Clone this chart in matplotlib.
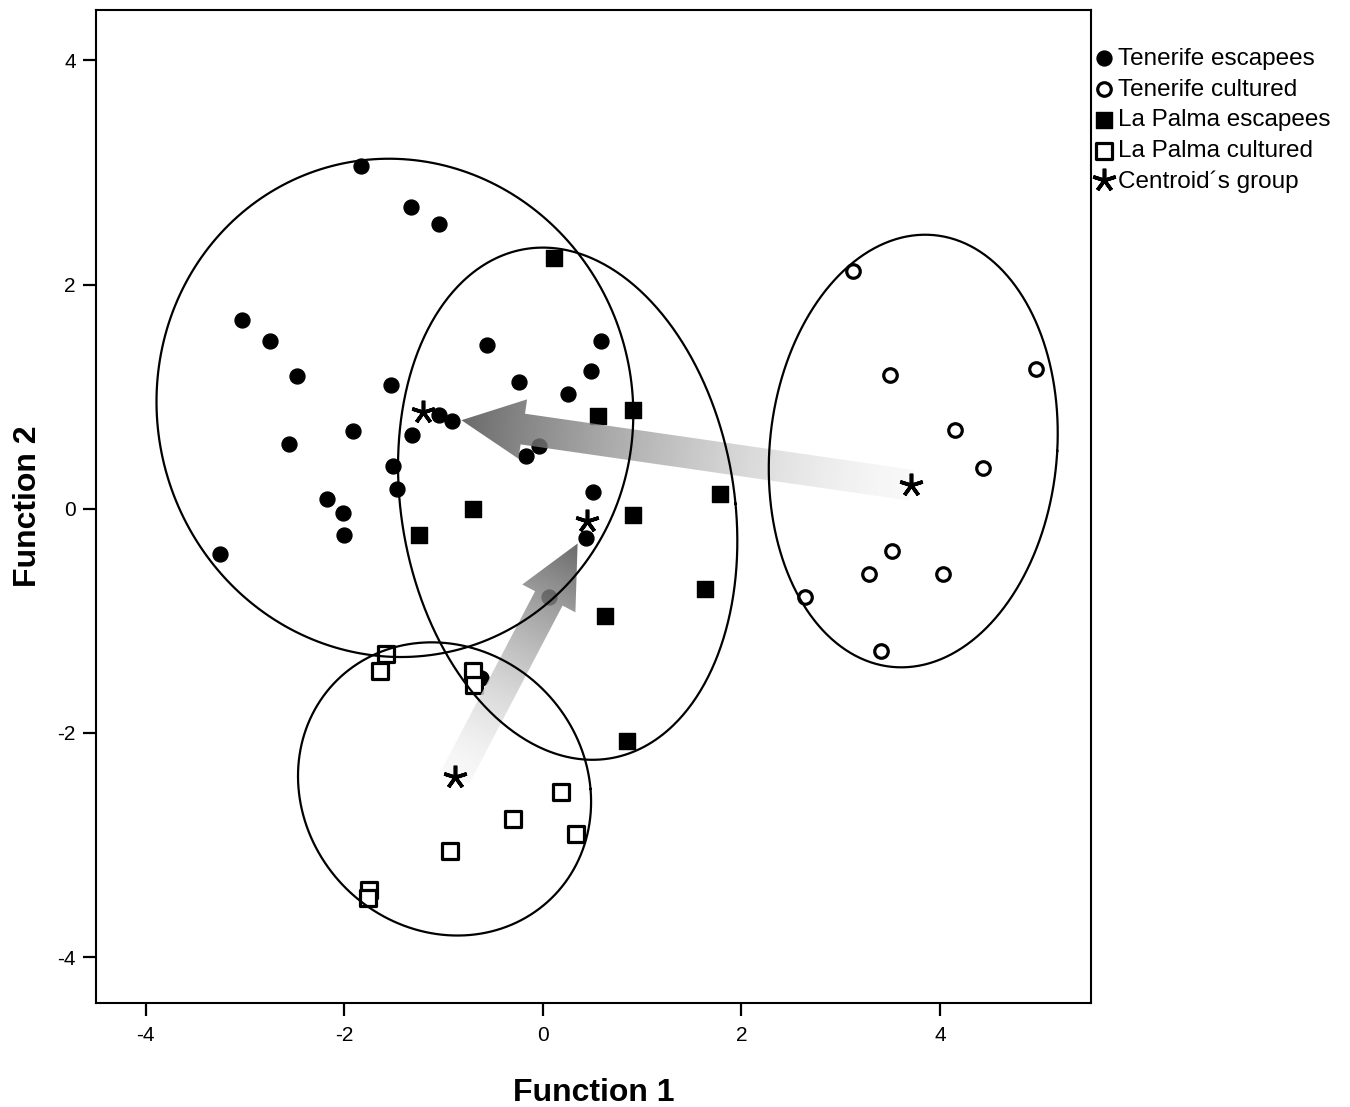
import numpy as np
import matplotlib
matplotlib.use("Agg")
import matplotlib.pyplot as plt
from matplotlib.patches import Polygon

plt.rcParams['font.family'] = ['Liberation Sans', 'DejaVu Sans']
plt.rcParams['axes.unicode_minus'] = False

# ---------------- data ----------------
ten_esc_x = [-1.83, -1.33, -1.05, -3.03, -2.75, -2.48, -1.53, -2.56, -1.91, -1.32,
             -1.05, -0.91, -1.51, -1.47, -2.17, -2.01, -2.00, -3.25, -0.56, -0.24,
             0.59, 0.48, 0.25, -0.04, -0.17, 0.50, 0.43, 0.06, -0.62]
ten_esc_y = [3.06, 2.69, 2.54, 1.68, 1.50, 1.18, 1.10, 0.58, 0.69, 0.66,
             0.84, 0.78, 0.38, 0.18, 0.09, -0.04, -0.23, -0.40, 1.46, 1.13,
             1.50, 1.23, 1.02, 0.56, 0.47, 0.15, -0.26, -0.79, -1.51]

ten_cul_x = [3.12, 3.50, 4.97, 4.15, 4.43, 3.52, 3.28, 4.03, 2.64, 3.41]
ten_cul_y = [2.12, 1.19, 1.25, 0.70, 0.36, -0.38, -0.58, -0.58, -0.79, -1.27]

lp_esc_x = [0.11, 0.56, 0.91, -0.70, -1.25, 0.91, 1.78, 1.63, 0.63, 0.85]
lp_esc_y = [2.24, 0.83, 0.88, 0.00, -0.23, -0.06, 0.13, -0.72, -0.96, -2.07]

lp_cul_x = [-1.58, -1.64, -0.70, -0.69, 0.18, -0.30, 0.33, -0.94, -1.75, -1.76]
lp_cul_y = [-1.30, -1.45, -1.45, -1.57, -2.53, -2.77, -2.90, -3.05, -3.40, -3.47]

centroid_x = [-1.21, 3.71, 0.44, -0.88]
centroid_y = [0.86, 0.21, -0.11, -2.39]

# ellipse params: centre x, centre y, half-width, half-height, shear
ell_cx = [-1.49, 3.73, 0.25, -0.99]
ell_cy = [0.90, 0.515, 0.045, -2.50]
ell_rx = [2.40, 1.45, 1.69, 1.47]
ell_ry = [2.223, 1.93, 2.285, 1.308]
ell_sx = [-0.06, 0.12, -0.25, -0.13]

# arrows: from cultured centroid towards escapee centroid
arrow_from = [(3.71, 0.21), (-0.88, -2.39)]
arrow_to = [(-0.82, 0.79), (0.35, -0.31)]

labels = ['Tenerife escapees', 'Tenerife cultured', 'La Palma escapees',
          'La Palma cultured', 'Centroid\u00b4s group']

# ---------------- figure ----------------
W, H = 1350, 1107
fig = plt.figure(figsize=(W / 100, H / 100), dpi=100)
ax = fig.add_axes([96 / W, (H - 1003) / H, (1091 - 96) / W, (1003 - 10) / H])
XL, YL = (-4.50, 5.52), (-4.41, 4.45)
ax.set_xlim(*XL)
ax.set_ylim(*YL)

# points
ax.scatter(ten_esc_x, ten_esc_y, s=115, marker='o', c='black', zorder=2, label=labels[0])
ax.scatter(ten_cul_x, ten_cul_y, s=95, marker='o', facecolors='white', edgecolors='black',
           linewidths=2.3, zorder=2, label=labels[1])
ax.scatter(lp_esc_x, lp_esc_y, s=125, marker='s', c='black', zorder=2, label=labels[2])
ax.scatter(lp_cul_x, lp_cul_y, s=125, marker='s', facecolors='white', edgecolors='black',
           linewidths=2.3, zorder=2, label=labels[3])


def gradient_arrow(ax, start, end, shaft=31, head_w=60, head_l=62):
    T = ax.transData.transform(start)
    P = ax.transData.transform(end)
    d = P - T
    L = np.hypot(*d)
    u = d / L
    n = np.array([-u[1], u[0]])
    Hb = P - u * head_l
    pts = np.array([T + n * shaft / 2, Hb + n * shaft / 2, Hb + n * head_w / 2, P,
                    Hb - n * head_w / 2, Hb - n * shaft / 2, T - n * shaft / 2])
    dpts = ax.transData.inverted().transform(pts)
    poly = Polygon(dpts, closed=True, facecolor='none', edgecolor='none')
    ax.add_patch(poly)
    x0, y0 = dpts.min(0)
    x1, y1 = dpts.max(0)
    nx, ny = 400, 400
    X, Y = np.meshgrid(np.linspace(x0, x1, nx), np.linspace(y0, y1, ny))
    pix = ax.transData.transform(np.column_stack([X.ravel(), Y.ravel()]))
    s = np.clip(((pix - T) @ u) / L, 0, 1).reshape(ny, nx)
    g = 0.97 - 0.68 * s ** 1.5
    img = np.zeros((ny, nx, 4))
    img[..., 0] = g
    img[..., 1] = g
    img[..., 2] = g
    img[..., 3] = 0.82
    im = ax.imshow(img, extent=(x0, x1, y0, y1), origin='lower', aspect='auto',
                   interpolation='bilinear', zorder=3)
    im.set_clip_path(poly)


for a, b in zip(arrow_from, arrow_to):
    gradient_arrow(ax, a, b)

# ellipses
t = np.linspace(0, 2 * np.pi, 500)
for cx, cy, rx, ry, sx in zip(ell_cx, ell_cy, ell_rx, ell_ry, ell_sx):
    ax.plot(cx + rx * np.cos(t) + sx * np.sin(t), cy + ry * np.sin(t),
            color='black', lw=1.6, zorder=4)

# centroids
ax.plot(centroid_x, centroid_y, linestyle='none', marker=(5, 2, 0), markersize=17,
        markeredgewidth=2.6, color='black', zorder=5, label=labels[4])

ax.set_xlim(*XL)
ax.set_ylim(*YL)
ax.set_xticks([-4, -2, 0, 2, 4])
ax.set_yticks([-4, -2, 0, 2, 4])
ax.tick_params(direction='out', length=9.5, width=1.6, labelsize=15, colors='black')
ax.tick_params(axis='x', pad=7)
ax.tick_params(axis='y', pad=5)
for sp in ax.spines.values():
    sp.set_linewidth(1.5)

ax.set_xlabel('Function 1', fontsize=23, fontweight='bold', labelpad=24)
ax.set_ylabel('Function 2', fontsize=23, fontweight='bold', labelpad=10)

ax.legend(loc='upper left', bbox_to_anchor=(1.002, 0.962), frameon=False, fontsize=17.5,
          handletextpad=0.12, handlelength=0.9, labelspacing=0.36, borderaxespad=0,
          borderpad=0, scatterpoints=1)

fig.savefig('out.png', dpi=100)
